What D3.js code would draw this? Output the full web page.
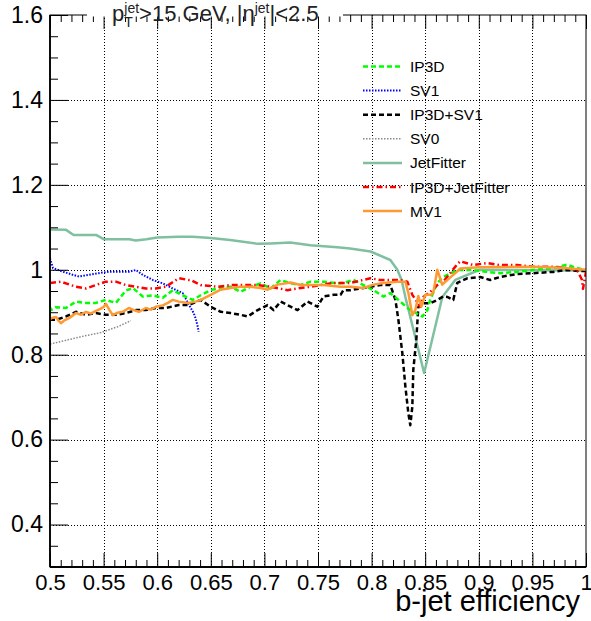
<!DOCTYPE html>
<html><head><meta charset="utf-8">
<script src="https://cdn.jsdelivr.net/npm/d3@7"></script>
<style>
body{margin:0;background:#fff}
svg{display:block}
text{font-family:"Liberation Sans",Arial,Helvetica,sans-serif}
</style>
</head><body>
<svg id="c" width="591" height="621"></svg>
<script>
// ---------------- data ----------------
const xTickLabels = ["0.5","0.55","0.6","0.65","0.7","0.75","0.8","0.85","0.9","0.95","1"];
const yTickLabels = ["0.4","0.6","0.8","1","1.2","1.4","1.6"];
const seriesNames = ["IP3D","SV1","IP3D+SV1","SV0","JetFitter","IP3D+JetFitter","MV1"];

const ip3d = [[0.5,0.912],[0.5009,0.905],[0.5056,0.912],[0.5149,0.91],[0.5242,0.925],[0.5335,0.922],[0.5428,0.922],[0.5521,0.929],[0.5615,0.922],[0.5708,0.951],[0.5773,0.957],[0.5866,0.937],[0.5959,0.94],[0.6052,0.934],[0.6145,0.952],[0.6238,0.94],[0.6331,0.929],[0.6406,0.94],[0.6499,0.952],[0.6592,0.957],[0.6685,0.96],[0.6778,0.948],[0.6872,0.96],[0.6965,0.968],[0.7058,0.956],[0.7151,0.976],[0.7244,0.968],[0.7337,0.964],[0.743,0.972],[0.7551,0.972],[0.7682,0.968],[0.7737,0.969],[0.7831,0.976],[0.7924,0.964],[0.8017,0.952],[0.811,0.937],[0.8175,0.945],[0.8268,0.925],[0.8361,0.905],[0.8473,0.89],[0.852,0.905],[0.8547,0.929],[0.8613,0.969],[0.8669,0.983],[0.8799,0.9995],[0.8948,0.9995],[0.9078,0.995],[0.9199,0.992],[0.9358,0.995],[0.9507,0.9995],[0.9693,1.004],[0.9823,1.012],[0.9916,1.004],[1.0,0.9995]];

const sv1 = [[0.5,1.027],[0.5028,1.004],[0.5121,0.9955],[0.5214,0.988],[0.527,0.984],[0.5363,0.988],[0.5456,0.992],[0.5549,0.9955],[0.5642,0.9955],[0.5736,0.9955],[0.5801,0.9995],[0.5866,0.988],[0.5959,0.976],[0.6052,0.968],[0.6145,0.956],[0.6238,0.945],[0.6313,0.91],[0.6341,0.898],[0.6359,0.885],[0.6378,0.866],[0.6387,0.854]];

const ip3dSv1 = [[0.5,0.882],[0.5056,0.882],[0.5149,0.89],[0.5242,0.901],[0.5335,0.894],[0.5428,0.898],[0.5521,0.894],[0.5615,0.894],[0.5708,0.898],[0.5801,0.905],[0.5894,0.905],[0.5987,0.91],[0.608,0.91],[0.6201,0.917],[0.6294,0.917],[0.6406,0.929],[0.6499,0.913],[0.6592,0.901],[0.6685,0.898],[0.6778,0.894],[0.6844,0.89],[0.6937,0.905],[0.703,0.917],[0.7086,0.905],[0.7151,0.925],[0.7244,0.913],[0.7309,0.905],[0.7402,0.925],[0.7495,0.913],[0.7551,0.937],[0.7644,0.941],[0.771,0.941],[0.7737,0.952],[0.7803,0.952],[0.7896,0.956],[0.7989,0.96],[0.8082,0.964],[0.8175,0.964],[0.8222,0.929],[0.825,0.882],[0.8287,0.803],[0.8315,0.725],[0.8343,0.662],[0.8361,0.634],[0.838,0.678],[0.8389,0.764],[0.8417,0.835],[0.8436,0.913],[0.8482,0.921],[0.8547,0.921],[0.8613,0.929],[0.8669,0.937],[0.8706,0.936],[0.8762,0.929],[0.8799,0.969],[0.8892,0.98],[0.9013,0.983],[0.9106,0.976],[0.9199,0.983],[0.9358,0.99],[0.9507,0.992],[0.9693,0.995],[0.9823,0.9995],[0.9944,0.997],[1.0,0.997]];

const sv0 = [[0.5,0.825],[0.5168,0.835],[0.5317,0.844],[0.5475,0.852],[0.5633,0.866],[0.5754,0.88]];

const jetFitter = [[0.5,1.095],[0.515,1.094],[0.522,1.082],[0.543,1.082],[0.55,1.072],[0.574,1.072],[0.58,1.069],[0.59,1.072],[0.6,1.076],[0.62,1.078],[0.633,1.078],[0.65,1.075],[0.668,1.07],[0.694,1.061],[0.706,1.062],[0.724,1.064],[0.743,1.058],[0.768,1.053],[0.78,1.05],[0.799,1.043],[0.8175,1.023],[0.824,1.0],[0.828,0.976],[0.8315,0.936],[0.849,0.757],[0.866,0.936],[0.878,0.976],[0.901,1.0],[0.95,0.999],[1.0,0.998]];

const ip3dJetFitter = [[0.5,0.969],[0.5102,0.972],[0.5242,0.96],[0.5335,0.956],[0.5428,0.964],[0.5521,0.972],[0.5615,0.972],[0.5708,0.964],[0.5801,0.96],[0.5894,0.956],[0.5987,0.956],[0.608,0.96],[0.6201,0.98],[0.6294,0.976],[0.6313,0.976],[0.6406,0.964],[0.6564,0.96],[0.6685,0.964],[0.6937,0.964],[0.7058,0.96],[0.7216,0.952],[0.7337,0.957],[0.743,0.96],[0.7644,0.969],[0.7803,0.969],[0.7989,0.98],[0.8082,0.976],[0.8268,0.976],[0.8333,0.972],[0.838,0.941],[0.8454,0.913],[0.8482,0.936],[0.8547,0.948],[0.8613,0.964],[0.8669,0.972],[0.8799,1.013],[0.8827,1.02],[0.8948,1.011],[0.9078,1.016],[0.9199,1.011],[0.9358,1.011],[0.9507,1.007],[0.9693,1.007],[0.9823,1.004],[0.9916,1.0],[0.9963,0.976],[0.9972,0.955],[1.0,0.995]];

const mv1 = [[0.5,0.882],[0.5009,0.886],[0.5056,0.889],[0.508,0.88],[0.5102,0.874],[0.513,0.88],[0.5177,0.886],[0.521,0.892],[0.5242,0.898],[0.529,0.894],[0.5335,0.901],[0.538,0.897],[0.5428,0.903],[0.547,0.908],[0.5503,0.913],[0.5521,0.92],[0.5555,0.905],[0.5587,0.893],[0.563,0.899],[0.568,0.901],[0.5736,0.91],[0.5782,0.905],[0.5829,0.901],[0.5894,0.91],[0.594,0.906],[0.5987,0.913],[0.6052,0.916],[0.61,0.922],[0.6145,0.929],[0.6201,0.925],[0.6294,0.922],[0.6359,0.925],[0.6406,0.929],[0.6499,0.941],[0.6592,0.953],[0.6685,0.957],[0.6778,0.96],[0.6872,0.96],[0.6965,0.957],[0.703,0.953],[0.7123,0.965],[0.7244,0.97],[0.7337,0.964],[0.743,0.964],[0.7551,0.964],[0.771,0.96],[0.7803,0.96],[0.7924,0.957],[0.8017,0.965],[0.811,0.969],[0.824,0.972],[0.8315,0.972],[0.8343,0.945],[0.838,0.893],[0.8408,0.905],[0.8436,0.938],[0.8464,0.913],[0.8501,0.941],[0.8547,0.941],[0.8575,0.945],[0.8613,1.0],[0.8659,0.965],[0.8706,0.976],[0.8762,0.988],[0.8827,1.003],[0.9,1.006],[0.95,1.007],[0.9758,1.005],[1.0,1.0]];

// ---------------- chart ----------------
const svg = d3.select("#c");
const L = 50, R = 586, T = 15, B = 567;
const x = d3.scaleLinear().domain([0.5, 1]).range([L, R]);
const y = d3.scaleLinear().domain([0.3, 1.6]).range([B, T]);

const r2 = v => Math.round(v * 1000) / 1000;
const xMajor = d3.range(0, 11).map(i => r2(0.5 + i * 0.05));
const xMinor = d3.range(0, 51).map(i => r2(0.5 + i * 0.01)).filter(v => !xMajor.includes(v));
const yMajor = d3.range(0, 7).map(i => r2(0.4 + i * 0.2));
const yMinor = d3.range(0, 27).map(i => r2(0.3 + i * 0.05)).filter(v => !yMajor.includes(v));

svg.append("rect").attr("width", 591).attr("height", 621).attr("fill", "#fff");

// grid
const grid = svg.append("g").attr("stroke", "#000").attr("stroke-width", 1).attr("stroke-dasharray", "1,2");
xMajor.filter(v => v > 0.5 && v < 1).forEach(v => {
  grid.append("line").attr("x1", Math.round(x(v)) + 0.5).attr("x2", Math.round(x(v)) + 0.5).attr("y1", T).attr("y2", B);
});
yMajor.filter(v => v < 1.6).forEach(v => {
  grid.append("line").attr("y1", Math.round(y(v)) + 0.5).attr("y2", Math.round(y(v)) + 0.5).attr("x1", L).attr("x2", R);
});

// curves
svg.append("clipPath").attr("id", "clip").append("rect").attr("x", L).attr("y", T).attr("width", R - L).attr("height", B - T);
const line = d3.line().x(d => x(d[0])).y(d => y(d[1]));
const styles = [
  {name: "IP3D", data: ip3d, color: "#00ff00", w: 2.5, dash: "5,3"},
  {name: "SV1", data: sv1, color: "#0000ff", w: 2, dash: "1.5,1.5"},
  {name: "IP3D+SV1", data: ip3dSv1, color: "#000000", w: 2.5, dash: "5,3"},
  {name: "SV0", data: sv0, color: "#8a8a8a", w: 1.5, dash: "1.5,1.5"},
  {name: "JetFitter", data: jetFitter, color: "#80c0a0", w: 2.5, dash: null},
  {name: "IP3D+JetFitter", data: ip3dJetFitter, color: "#ff0000", w: 2.5, dash: "6,3,1.5,3"},
  {name: "MV1", data: mv1, color: "#ff9933", w: 2.5, dash: null}
];
const drawOrder = [3, 1, 4, 2, 0, 5, 6];
const curves = svg.append("g").attr("clip-path", "url(#clip)");
drawOrder.forEach(i => {
  const s = styles[i];
  curves.append("path").datum(s.data).attr("d", line).attr("fill", "none")
    .attr("stroke", s.color).attr("stroke-width", s.w)
    .attr("stroke-dasharray", s.dash).attr("stroke-linejoin", "round");
});

// axes
function strip(g){ g.select(".domain").remove(); g.selectAll("line").attr("stroke", "#000"); }
const FONT = '"Liberation Sans",Arial,sans-serif';
// bottom
svg.append("g").attr("transform", `translate(0,${B})`)
  .call(d3.axisBottom(x).tickValues(xMinor).tickSize(-7).tickFormat(""))
  .call(strip);
svg.append("g").attr("transform", `translate(0,${B})`)
  .call(d3.axisBottom(x).tickValues(xMajor).tickSize(-14).tickPadding(7).tickFormat((d, i) => xTickLabels[i]))
  .call(strip)
  .call(g => g.selectAll("text").attr("font-size", 22).attr("fill", "#000").attr("font-family", FONT));
// left
svg.append("g").attr("transform", `translate(${L},0)`)
  .call(d3.axisLeft(y).tickValues(yMinor).tickSize(-8).tickFormat(""))
  .call(strip);
svg.append("g").attr("transform", `translate(${L},0)`)
  .call(d3.axisLeft(y).tickValues(yMajor).tickSize(-18).tickPadding(7).tickFormat((d, i) => yTickLabels[i]))
  .call(strip)
  .call(g => g.selectAll("text").attr("font-size", 23).attr("fill", "#000").attr("font-family", FONT));
// top
svg.append("g").attr("transform", `translate(0,${T})`)
  .call(d3.axisTop(x).tickValues(xMinor).tickSize(-7).tickFormat(""))
  .call(strip);
svg.append("g").attr("transform", `translate(0,${T})`)
  .call(d3.axisTop(x).tickValues(xMajor).tickSize(-14).tickFormat(""))
  .call(strip);

// frame
svg.append("rect").attr("x", L).attr("y", T).attr("width", R - L).attr("height", B - T)
  .attr("fill", "none").attr("stroke", "#000").attr("stroke-width", 1);
svg.append("line").attr("x1", L).attr("x2", L).attr("y1", T).attr("y2", B).attr("stroke", "#000").attr("stroke-width", 1.8);
svg.append("line").attr("x1", L).attr("x2", R).attr("y1", B).attr("y2", B).attr("stroke", "#000").attr("stroke-width", 1.8);

// title box + title
svg.append("rect").attr("x", 87).attr("y", 0).attr("width", 256).attr("height", 16.5).attr("fill", "#fff");
const title = svg.append("text").attr("x", 112).attr("y", 21).attr("font-size", 22).attr("fill", "#222");
title.append("tspan").text("p");
title.append("tspan").attr("font-size", 14).attr("dy", 6).text("T");
title.append("tspan").attr("font-size", 14).attr("dx", -8.5).attr("dy", -14).text("jet");
title.append("tspan").attr("dy", 8).text(">15 GeV, |η");
title.append("tspan").attr("font-size", 14).attr("dy", -8).text("jet");
title.append("tspan").attr("dy", 8).text("|<2.5");

// legend
const leg = svg.append("g");
styles.forEach((s, i) => {
  const yy = 66.5 + i * 24.1;
  leg.append("line").attr("x1", 363).attr("x2", 402).attr("y1", yy).attr("y2", yy)
    .attr("stroke", s.color).attr("stroke-width", s.w).attr("stroke-dasharray", s.dash);
  leg.append("text").attr("x", 410).attr("y", yy).attr("dy", "0.36em").attr("font-size", 15.5).attr("fill", "#000").text(seriesNames[i]);
});

// x title
svg.append("text").attr("x", 580).attr("y", 611).attr("text-anchor", "end").attr("font-size", 29).attr("fill", "#000").text("b-jet efficiency");
</script>
</body></html>
